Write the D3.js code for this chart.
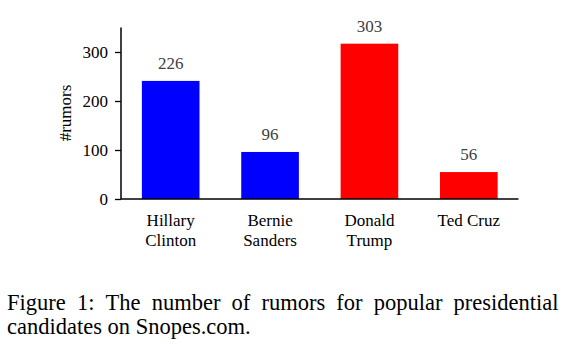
<!DOCTYPE html>
<html>
<head>
<meta charset="utf-8">
<script src="https://cdn.jsdelivr.net/npm/d3@7"></script>
<style>
  html, body { margin: 0; padding: 0; background: #fff; }
  svg { display: block; }
  text { font-family: "Liberation Serif", "Times New Roman", serif; }
</style>
</head>
<body>
<svg id="chart" width="565" height="356"></svg>
<script>
// Data
const categories = [["Hillary", "Clinton"], ["Bernie", "Sanders"], ["Donald", "Trump"], ["Ted Cruz"]];
const barValues = [241, 96, 317, 55];       // drawn bar heights
const valueLabels = ["226", "96", "303", "56"]; // printed labels
const barColors = ["#0000ff", "#0000ff", "#ff0000", "#ff0000"];
const yTicks = [0, 100, 200, 300];
const yLabel = "#rumors";
const captionLines = ["Figure 1: The number of rumors for popular presidential", "candidates on Snopes.com."];

(function () {
const svg = d3.select("#chart");
const mLeft = 121, mRight = 518.5, mTop = 27.5, mBottom = 199;

const x = d3.scaleBand()
  .domain(d3.range(categories.length))
  .range([mLeft, mRight])
  .paddingInner(0.42)
  .paddingOuter(0.21);

const y = d3.scaleLinear().domain([0, 350]).range([mBottom, mTop]);

// bars
svg.selectAll("rect.bar")
  .data(barValues)
  .join("rect")
  .attr("class", "bar")
  .attr("x", (d, i) => x(i))
  .attr("width", x.bandwidth())
  .attr("y", d => y(d))
  .attr("height", d => y(0) - y(d))
  .attr("fill", (d, i) => barColors[i]);

// value labels
svg.selectAll("text.val")
  .data(barValues)
  .join("text")
  .attr("class", "val")
  .attr("x", (d, i) => x(i) + x.bandwidth() / 2)
  .attr("y", d => y(d) - 12)
  .attr("text-anchor", "middle")
  .attr("font-size", 17)
  .attr("fill", "#404040")
  .text((d, i) => valueLabels[i]);

// y axis
const yAxis = d3.axisLeft(y).tickValues(yTicks).tickSize(6).tickPadding(7).tickFormat(d3.format("d"));
const gy = svg.append("g").attr("transform", `translate(${mLeft},0)`).call(yAxis);
gy.select(".domain").remove();
gy.append("line").attr("x1", 0).attr("x2", 0).attr("y1", mTop).attr("y2", mBottom)
  .attr("stroke", "#000").attr("stroke-width", 1.5);
gy.selectAll(".tick line").attr("stroke", "#000").attr("stroke-width", 1.3);
gy.selectAll(".tick text").attr("font-size", 17).attr("fill", "#000")
  .attr("font-family", "Liberation Serif, Times New Roman, serif");

// x axis line
svg.append("line").attr("x1", mLeft).attr("x2", mRight).attr("y1", mBottom).attr("y2", mBottom)
  .attr("stroke", "#000").attr("stroke-width", 1.5);

// x labels
const xl = svg.selectAll("text.xl")
  .data(categories)
  .join("text")
  .attr("class", "xl")
  .attr("text-anchor", "middle")
  .attr("font-size", 17)
  .attr("fill", "#000");
xl.each(function(lines, i) {
  const t = d3.select(this);
  lines.forEach((ln, j) => {
    t.append("tspan")
      .attr("x", x(i) + x.bandwidth() / 2)
      .attr("y", 226 + j * 19.5)
      .text(ln);
  });
});

// y label
svg.append("text")
  .attr("transform", `translate(71,113) rotate(-90)`)
  .attr("text-anchor", "middle")
  .attr("font-size", 17)
  .attr("fill", "#000")
  .text(yLabel);

// caption (first line justified)
const capX0 = 7, capX1 = 558.5, capSize = 22.5;
const baselines = [310, 334];
captionLines.forEach((line, li) => {
  if (li === 0) {
    const words = line.split(" ");
    const temp = words.map(w => svg.append("text").attr("font-size", capSize).attr("fill", "#000").text(w));
    const widths = temp.map(t => t.node().getComputedTextLength());
    const total = d3.sum(widths);
    const gap = (capX1 - capX0 - total) / (words.length - 1);
    let cx = capX0;
    temp.forEach((t, k) => {
      t.attr("x", cx).attr("y", baselines[li]);
      cx += widths[k] + gap;
    });
  } else {
    svg.append("text").attr("x", capX0).attr("y", baselines[li])
      .attr("font-size", capSize).attr("fill", "#000").text(line);
  }
});
})();
</script>
</body>
</html>
